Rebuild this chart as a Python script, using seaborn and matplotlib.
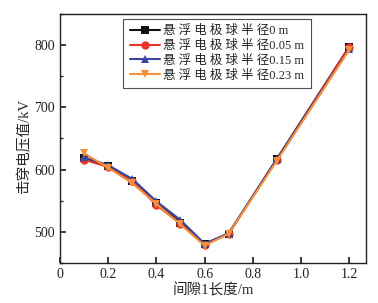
import matplotlib
matplotlib.use("Agg")
import matplotlib.pyplot as plt
import pandas as pd
import seaborn as sns
from matplotlib.ticker import MultipleLocator

gap_len = [0.1, 0.2, 0.3, 0.4, 0.5, 0.6, 0.7, 0.9, 1.2]
r_0 = [618, 606, 582, 546, 515, 480, 497, 617, 797]
r_005 = [616, 604, 582, 543, 513, 479, 497, 616, 797]
r_015 = [620, 607, 585, 549, 519, 481, 498, 617, 793]
r_023 = [626, 603, 578, 545, 512, 478, 497, 614, 792]

# spaced CJK chars to mimic the wide Song typesetting of the original
labels = ["悬 浮 电 极 球 半 径0 m", "悬 浮 电 极 球 半 径0.05 m",
          "悬 浮 电 极 球 半 径0.15 m", "悬 浮 电 极 球 半 径0.23 m"]
colors = ["#111111", "#e8352c", "#3b46a0", "#f7903a"]
markers = ["s", "o", "^", "v"]

sns.set_theme(style="ticks")
plt.rcParams["font.family"] = ["Liberation Serif", "Noto Sans CJK SC"]
plt.rcParams["axes.unicode_minus"] = False

fig = plt.figure(figsize=(3.78, 3.03), dpi=100)
ax = fig.add_axes([0.159, 0.132, 0.809, 0.822])

for vals, lab, c, m in zip([r_0, r_005, r_015, r_023], labels, colors, markers):
    df = pd.DataFrame({"x": gap_len, "y": vals})
    sns.lineplot(data=df, x="x", y="y", ax=ax, color=c, marker=m,
                 markersize=6, markeredgewidth=0, linewidth=1.5, label=lab)

ax.set_xlim(0, 1.27)
ax.set_ylim(450, 850)
ax.yaxis.set_major_locator(MultipleLocator(100))
ax.yaxis.set_minor_locator(MultipleLocator(50))
ax.set_xticks([0, 0.2, 0.4, 0.6, 0.8, 1.0, 1.2])
ax.set_xticklabels(["0", "0.2", "0.4", "0.6", "0.8", "1.0", "1.2"])
ax.tick_params(which="both", direction="in", labelsize=10, colors="#222222")
ax.tick_params(which="major", length=4)
ax.tick_params(which="minor", length=2.5, axis="y")
for s in ax.spines.values():
    s.set_linewidth(1.0)
    s.set_color("#222222")

ax.set_xlabel("间隙1长度/m", fontsize=10.5, labelpad=2)
ax.set_ylabel("击穿电压值/kV", fontsize=10.5)
ax.yaxis.set_label_coords(-0.092, 0.467)

leg = ax.legend(loc="upper center", bbox_to_anchor=(0.513, 0.98), fontsize=9,
                frameon=True, fancybox=False, edgecolor="#222222",
                handlelength=2.4, handletextpad=0.3, borderpad=0.5,
                labelspacing=0.22, borderaxespad=0)
leg.get_frame().set_linewidth(0.8)

fig.savefig("out.png", dpi=100)
